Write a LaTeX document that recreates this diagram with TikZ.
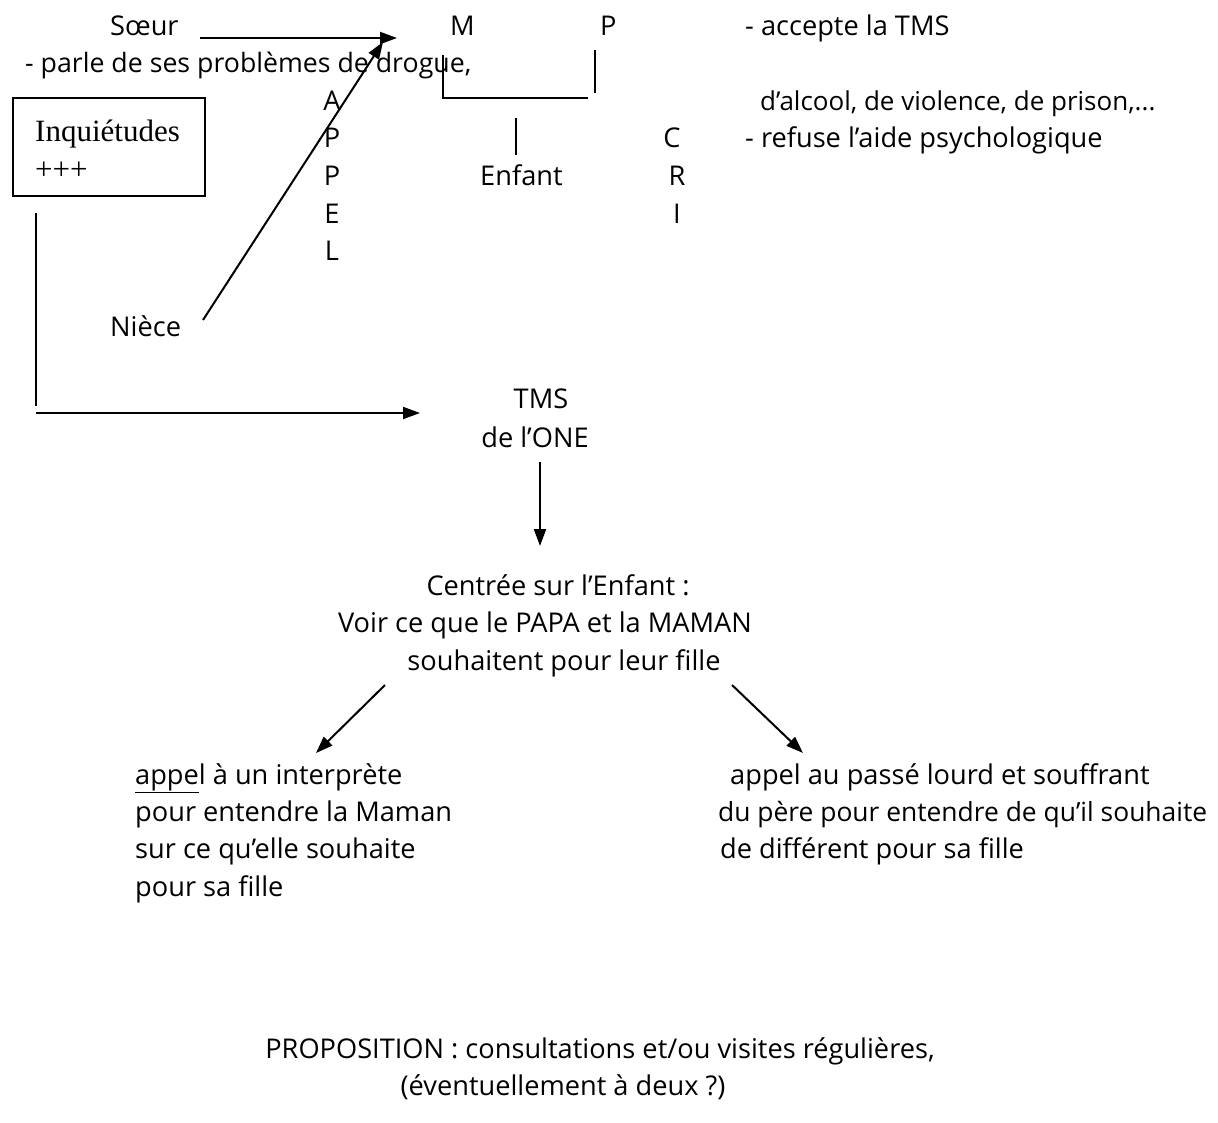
\documentclass[tikz,border=0pt]{standalone}
\usepackage{fontspec}
\setmainfont{Open Sans}
\newfontfamily\boxfont{Liberation Serif}
\usetikzlibrary{arrows.meta}
\begin{document}
\begin{tikzpicture}[x=1pt,y=-1pt,
  txt/.style={inner sep=0pt,anchor=base west,font=\fontsize{27.2}{32}\selectfont},
  ctxt/.style={inner sep=0pt,anchor=base,font=\fontsize{27.2}{32}\selectfont},
  btxt/.style={inner sep=0pt,anchor=base west,font=\boxfont\fontsize{31}{36}\selectfont},
  ln/.style={line width=2pt},
  arr/.style={line width=2pt,-{Triangle[length=17pt,width=12pt]}}]
\useasboundingbox (0,0) rectangle (1218,1122);
% top row
\node[txt] (soeur) at (110,35) {Sœur};
\node[txt] (m) at (450,35) {M};
\node[txt] (p) at (600,35) {P};
\node[txt] (acc) at (745,35) {- accepte la TMS};
\node[txt,font=\fontsize{26.7}{32}\selectfont] (parle) at (25,72) {- parle de ses problèmes de drogue,};
\node[txt,font=\fontsize{26}{32}\selectfont] (alc) at (760,110) {d'alcool, de violence, de prison,...};
\node[txt] (ref) at (745,147) {- refuse l'aide psychologique};
% APPEL
\node[ctxt] (a1) at (332,110) {A};
\node[ctxt] (a2) at (332,147) {P};
\node[ctxt] (a3) at (332,185) {P};
\node[ctxt] (a4) at (332,223) {E};
\node[ctxt] (a5) at (332,260) {L};
% CRI
\node[ctxt] (c1) at (672,147) {C};
\node[ctxt] (c2) at (677,185) {R};
\node[ctxt] (c3) at (677,223) {I};
\node[txt] (enf) at (480,185) {Enfant};
% box
\node[draw,line width=1.6pt,minimum width=192pt,minimum height=98pt,anchor=north west] (box) at (12,97) {};
\node[btxt] (inq) at (35,141) {Inquiétudes};
\node[btxt] (plus) at (35,179) {+++};
\node[txt] (niece) at (110,336) {Nièce};
% TMS
\node[ctxt] (tms) at (541,408) {TMS};
\node[ctxt] (one) at (535,447) {de l'ONE};
% centre
\node[ctxt] (c1l) at (558,595) {Centrée sur l'Enfant :};
\node[ctxt] (c2l) at (545,632) {Voir ce que le PAPA et la MAMAN};
\node[ctxt] (c3l) at (564,670) {souhaitent pour leur fille};
% left block
\node[txt] (l1) at (135,784) {\underline{appe}l à un interprète};
\node[txt] (l2) at (135,821) {pour entendre la Maman};
\node[txt] (l3) at (135,858) {sur ce qu'elle souhaite};
\node[txt] (l4) at (135,896) {pour sa fille};
% right block
\node[txt] (r1) at (730,784) {appel au passé lourd et souffrant};
\node[txt,font=\fontsize{26.4}{32}\selectfont] (r2) at (718,821) {du père pour entendre de qu'il souhaite};
\node[txt] (r3) at (720,858) {de différent pour sa fille};
% proposition
\node[ctxt] (prop) at (600,1058) {PROPOSITION : consultations et/ou visites régulières,};
\node[ctxt] (ev) at (563,1095) {(éventuellement à deux ?)};
% coordinates
\coordinate (s0) at (200,38);
\coordinate (s1) at (397,38);
\coordinate (n0) at (203,320);
\coordinate (n1) at (383,42);
\coordinate (bm) at (443,55);
\coordinate (bl) at (443,98);
\coordinate (br) at (588,98);
\coordinate (bp0) at (595,50);
\coordinate (bp1) at (595,93);
\coordinate (e0) at (516,118);
\coordinate (e1) at (516,155);
\coordinate (v0) at (36,213);
\coordinate (v1) at (36,406);
\coordinate (h0) at (36,413);
\coordinate (h1) at (420,413);
\coordinate (d0) at (540,462);
\coordinate (d1) at (540,546);
\coordinate (la0) at (385,685);
\coordinate (la1) at (316,753);
\coordinate (ra0) at (732,685);
\coordinate (ra1) at (803,753);
% connectors
\draw[arr] (s0) -- (s1);
\draw[arr] (n0) -- (n1);
\draw[ln] (bm) -- (bl) -- (br);
\draw[ln] (bp0) -- (bp1);
\draw[ln] (e0) -- (e1);
\draw[ln] (v0) -- (v1);
\draw[arr] (h0) -- (h1);
\draw[arr] (d0) -- (d1);
\draw[arr] (la0) -- (la1);
\draw[arr] (ra0) -- (ra1);
\end{tikzpicture}
\end{document}
